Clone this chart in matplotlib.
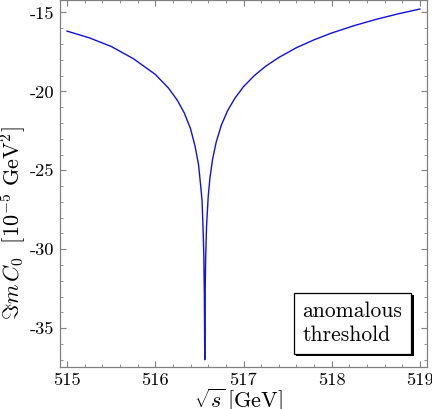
import matplotlib
matplotlib.use("Agg")
import matplotlib.pyplot as plt
import matplotlib.patheffects as pe
from matplotlib.ticker import MultipleLocator

sqrt_s = [515.00, 515.25, 515.50, 515.75, 516.00, 516.15, 516.25, 516.33,
          516.40, 516.45, 516.49, 516.515, 516.53, 516.54, 516.55, 516.556,
          516.561,
          516.566, 516.571, 516.581, 516.600, 516.620, 516.650, 516.690,
          516.75, 516.82, 516.90, 517.00, 517.12, 517.25, 517.40, 517.60,
          517.80, 518.00, 518.25, 518.50, 518.75, 519.00]
im_c0 = [-16.18, -16.60, -17.15, -17.92, -18.92, -19.79, -20.56, -21.38,
         -22.37, -23.45, -24.62, -26.00, -26.90, -28.40, -30.30, -32.80,
         -37.00,
         -32.50, -30.56, -28.57, -26.65, -25.46, -24.28, -23.22,
         -22.12, -21.22, -20.45, -19.70, -19.01, -18.41, -17.85, -17.23,
         -16.73, -16.30, -15.84, -15.44, -15.09, -14.78]

x_ticks = [515, 516, 517, 518, 519]
y_ticks = [-15, -20, -25, -30, -35]

plt.rcParams['font.family'] = ['cmr10', 'DejaVu Serif']
plt.rcParams['mathtext.fontset'] = 'cm'
plt.rcParams['axes.unicode_minus'] = False

fig = plt.figure(figsize=(4.32, 4.09), dpi=100)
ax = fig.add_axes([60/432, 42/409, 367/432, 366.5/409])

ax.plot(sqrt_s, im_c0, color='#1010e0', lw=1.0)

ax.set_xlim(514.92, 519.08)
ax.set_ylim(-37.46, -14.24)
ax.set_xticks(x_ticks)
ax.set_xticklabels([str(t) for t in x_ticks])
ax.set_yticks(y_ticks)
ax.set_yticklabels([str(t) for t in y_ticks])
ax.xaxis.set_minor_locator(MultipleLocator(0.2))
ax.yaxis.set_minor_locator(MultipleLocator(1))

for s in ax.spines.values():
    s.set_color('#808080')
    s.set_linewidth(0.9)
ax.tick_params(which='both', direction='in', top=True, right=True,
               color='#808080', labelsize=13.3, labelcolor='black', pad=4)
ax.tick_params(which='major', length=4.5, width=0.8)
ax.tick_params(which='minor', length=2.5, width=0.6)

ax.set_xlabel(r'$\sqrt{s}\,[\mathrm{GeV}]$', fontsize=16)
ax.xaxis.set_label_coords(0.485, -0.055)
ax.set_ylabel(r'$\Im m\,C_0\ \ [10^{-5}\ \mathrm{GeV}^2]$', fontsize=16)
ax.yaxis.set_label_coords(-0.088, 0.393)

t = ax.text(0.797, 0.119, 'anomalous\nthreshold', transform=ax.transAxes,
            fontsize=15.5, ha='center', va='center', multialignment='left',
            linespacing=1.3,
            bbox=dict(boxstyle='square,pad=0.42', fc='white', ec='black', lw=0.9))
t.get_bbox_patch().set_path_effects([
    pe.SimplePatchShadow(offset=(1.5, -1.5), shadow_rgbFace='black', alpha=1.0),
    pe.Normal()])

fig.savefig('out.png', dpi=100)
